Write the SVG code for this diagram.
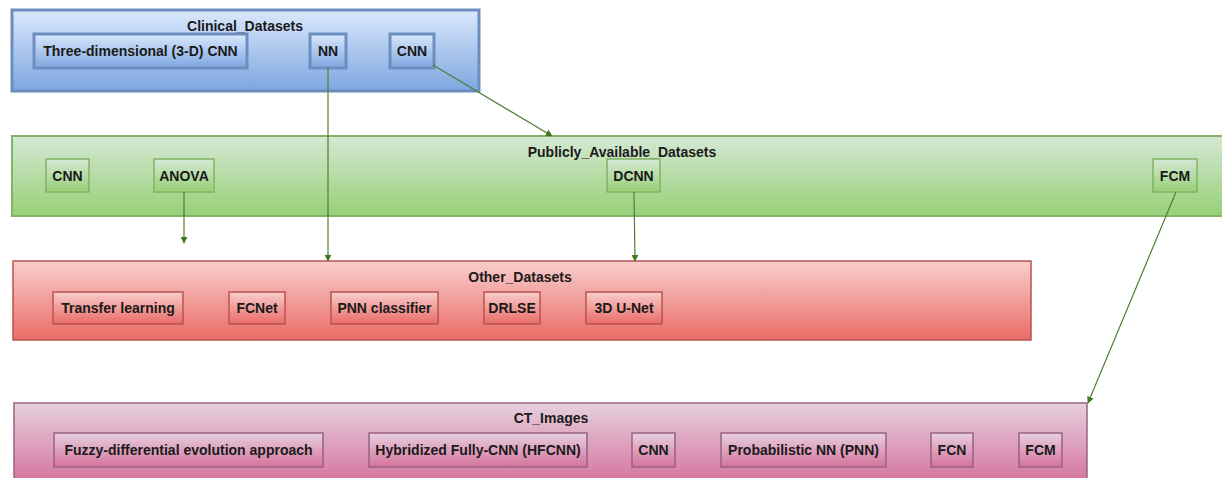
<svg xmlns="http://www.w3.org/2000/svg" width="1222" height="478" viewBox="0 0 1222 478">
<defs>
<linearGradient id="gBlue" x1="0" y1="0" x2="0" y2="1"><stop offset="0" stop-color="#dae8fc"/><stop offset="1" stop-color="#7ea6e0"/></linearGradient>
<linearGradient id="gGreen" x1="0" y1="0" x2="0" y2="1"><stop offset="0" stop-color="#d5e8d4"/><stop offset="1" stop-color="#97d077"/></linearGradient>
<linearGradient id="gRed" x1="0" y1="0" x2="0" y2="1"><stop offset="0" stop-color="#f8cecc"/><stop offset="1" stop-color="#ea6b66"/></linearGradient>
<linearGradient id="gPink" x1="0" y1="0" x2="0" y2="1"><stop offset="0" stop-color="#e6d0de"/><stop offset="1" stop-color="#d5739d"/></linearGradient>
<marker id="arr" viewBox="0 0 10 10" refX="9" refY="5" markerWidth="7" markerHeight="7" orient="auto" markerUnits="userSpaceOnUse">
<path d="M0,0 L10,5 L0,10 z" fill="#3f7a1f"/>
</marker>
</defs>
<style>
text{font-family:"Liberation Sans",Arial,sans-serif;font-weight:bold;font-size:14px;fill:#1a1a1a;text-anchor:middle}
.blue{fill:url(#gBlue);stroke:#6c8ebf;stroke-width:3}
.green{fill:url(#gGreen);stroke:#82b366;stroke-width:2}
.greenN{fill:url(#gGreen);stroke:#82b366;stroke-width:1.5}
.red{fill:url(#gRed);stroke:#b85450;stroke-width:1.5}
.pink{fill:url(#gPink);stroke:#996185;stroke-width:1.5}
.edge{fill:none;stroke:#4f7d35;stroke-width:1.2;marker-end:url(#arr)}
</style>
<rect width="1222" height="478" fill="#ffffff"/>

<g id="clinical">
<rect class="blue" x="12" y="10" width="467" height="81"/>
<text x="245" y="31">Clinical_Datasets</text>
</g>
<g id="c-3dcnn"><rect class="blue" x="34" y="34" width="213" height="34"/><text x="140.5" y="56">Three-dimensional (3-D) CNN</text></g>
<g id="c-nn"><rect class="blue" x="310" y="34" width="36" height="34"/><text x="328" y="56">NN</text></g>
<g id="c-cnn"><rect class="blue" x="390" y="34" width="44" height="34"/><text x="412" y="56">CNN</text></g>

<g id="public">
<rect class="green" x="12" y="136" width="1222" height="80"/>
<text x="622" y="157">Publicly_Available_Datasets</text>
</g>
<g id="p-cnn"><rect class="greenN" x="46" y="159" width="43" height="33"/><text x="67.5" y="181">CNN</text></g>
<g id="p-anova"><rect class="greenN" x="154" y="159" width="60" height="33"/><text x="184" y="181">ANOVA</text></g>
<g id="p-dcnn"><rect class="greenN" x="607" y="159" width="53" height="33"/><text x="633.5" y="181">DCNN</text></g>
<g id="p-fcm"><rect class="greenN" x="1153" y="159" width="44" height="33"/><text x="1175" y="181">FCM</text></g>

<g id="other">
<rect class="red" x="13" y="261" width="1018" height="79"/>
<text x="520" y="282">Other_Datasets</text>
</g>
<g id="o-tl"><rect class="red" x="53" y="292" width="130" height="32"/><text x="118" y="313">Transfer learning</text></g>
<g id="o-fcnet"><rect class="red" x="229" y="292" width="56" height="32"/><text x="257" y="313">FCNet</text></g>
<g id="o-pnn"><rect class="red" x="331" y="292" width="107" height="32"/><text x="384.5" y="313">PNN classifier</text></g>
<g id="o-drlse"><rect class="red" x="484" y="292" width="56" height="32"/><text x="512" y="313">DRLSE</text></g>
<g id="o-unet"><rect class="red" x="586" y="292" width="76" height="32"/><text x="624" y="313">3D U-Net</text></g>

<g id="ct">
<rect class="pink" x="14" y="403" width="1073" height="80"/>
<text x="551" y="423">CT_Images</text>
</g>
<g id="ct-fuzzy"><rect class="pink" x="54" y="433" width="269" height="34"/><text x="188.5" y="455">Fuzzy-differential evolution approach</text></g>
<g id="ct-hfcnn"><rect class="pink" x="369" y="433" width="218" height="34"/><text x="478" y="455">Hybridized Fully-CNN (HFCNN)</text></g>
<g id="ct-cnn"><rect class="pink" x="632" y="433" width="43" height="34"/><text x="653.5" y="455">CNN</text></g>
<g id="ct-pnn"><rect class="pink" x="721" y="433" width="165" height="34"/><text x="803.5" y="455">Probabilistic NN (PNN)</text></g>
<g id="ct-fcn"><rect class="pink" x="931" y="433" width="42" height="34"/><text x="952" y="455">FCN</text></g>
<g id="ct-fcm"><rect class="pink" x="1019" y="433" width="43" height="34"/><text x="1040.5" y="455">FCM</text></g>

<g id="connectors">
<path class="edge" d="M328,68 L328,261"/>
<path class="edge" d="M433,65 L552,136"/>
<path class="edge" d="M184,192 L184,243"/>
<path class="edge" d="M634,192 L635,261"/>
<path class="edge" d="M1176,192 L1088,403"/>
</g>
</svg>
